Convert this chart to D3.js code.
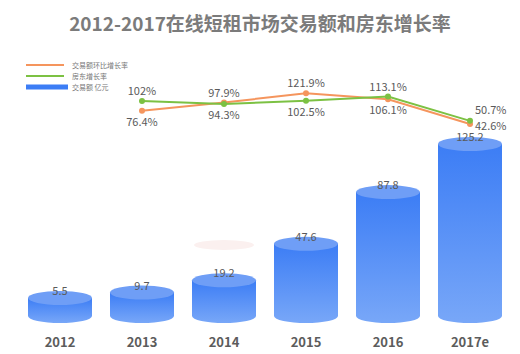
<!DOCTYPE html>
<html>
<head>
<meta charset="utf-8">
<script src="https://cdn.jsdelivr.net/npm/d3@7"></script>
<style>
  body { margin: 0; background: #fff; }
  text { font-family: "Noto Sans CJK SC", "DejaVu Sans", sans-serif; }
</style>
</head>
<body>
<div id="chart"></div>
<script>
// Data
var years = ["2012", "2013", "2014", "2015", "2016", "2017e"];
var volume = [5.5, 9.7, 19.2, 47.6, 87.8, 125.2];           // 交易额 亿元
var lineYears = ["2013", "2014", "2015", "2016", "2017e"];
var volumeGrowth = [76.4, 97.9, 121.9, 106.1, 42.6];         // 交易额环比增长率
var hostGrowth = [102, 94.3, 102.5, 113.1, 50.7];            // 房东增长率

var width = 520, height = 354;

var svg = d3.select("#chart").append("svg")
    .attr("width", width)
    .attr("height", height);

// Gradient for the cylinders
var defs = svg.append("defs");
var grad = defs.append("linearGradient")
    .attr("id", "barGrad")
    .attr("x1", 0).attr("y1", 0).attr("x2", 0).attr("y2", 1);
grad.append("stop").attr("offset", "0%").attr("stop-color", "#3c7df5");
grad.append("stop").attr("offset", "100%").attr("stop-color", "#78a7f8");

// Title
svg.append("text")
    .attr("x", 260)
    .attr("y", 31)
    .attr("text-anchor", "middle")
    .style("font-size", "19px")
    .style("font-weight", "bold")
    .style("fill", "#7b7b7b")
    .text("2012-2017在线短租市场交易额和房东增长率");

// Scales
var x = d3.scalePoint().domain(years).range([60, 470]);
var baseY = 316;
var y = d3.scaleLinear().domain([0, 125.2]).range([305, 144]);
var yRate = d3.scaleLinear().domain([40, 125]).range([125, 92]);

var rx = 32, ry = 7;

// faint shadow ellipse seen in the original
svg.append("ellipse")
    .attr("cx", x("2014"))
    .attr("cy", 245)
    .attr("rx", 30)
    .attr("ry", 5)
    .style("fill", "#fbf0ef");

// Cylinders
var bars = svg.selectAll(".bar")
    .data(volume)
    .enter().append("g")
    .attr("class", "bar");

bars.append("path")
    .attr("d", function (d, i) {
        var cx = x(years[i]), top = y(d);
        return "M" + (cx - rx) + "," + top +
            "L" + (cx - rx) + "," + baseY +
            "A" + rx + "," + ry + " 0 0 0 " + (cx + rx) + "," + baseY +
            "L" + (cx + rx) + "," + top + "Z";
    })
    .style("fill", "url(#barGrad)");

bars.append("ellipse")
    .attr("cx", function (d, i) { return x(years[i]); })
    .attr("cy", function (d) { return y(d); })
    .attr("rx", rx)
    .attr("ry", ry)
    .style("fill", "#6f9ef6");

bars.append("text")
    .attr("x", function (d, i) { return x(years[i]); })
    .attr("y", function (d) { return y(d) - ry + 4; })
    .attr("text-anchor", "middle")
    .style("font-size", "11px")
    .style("fill", "#5a5a5a")
    .text(function (d) { return d; });

// X axis labels
svg.selectAll(".xlab")
    .data(years)
    .enter().append("text")
    .attr("class", "xlab")
    .attr("x", function (d) { return x(d); })
    .attr("y", 347)
    .attr("text-anchor", "middle")
    .style("font-size", "13px")
    .style("font-weight", "bold")
    .style("fill", "#5c5c5c")
    .text(function (d) { return d; });

// Lines
var line = d3.line()
    .x(function (d, i) { return x(lineYears[i]); })
    .y(function (d) { return yRate(d); });

var series = [
    { values: volumeGrowth, color: "#f5955d", other: hostGrowth },
    { values: hostGrowth, color: "#7cc143", other: volumeGrowth }
];

var last = lineYears.length - 1;

series.forEach(function (s) {
    svg.append("path")
        .datum(s.values)
        .attr("d", line)
        .style("fill", "none")
        .style("stroke", s.color)
        .style("stroke-width", 2);

    svg.selectAll(null)
        .data(s.values)
        .enter().append("circle")
        .attr("cx", function (d, i) { return x(lineYears[i]); })
        .attr("cy", function (d) { return yRate(d); })
        .attr("r", 3)
        .style("fill", s.color);

    // label above when this series is the upper one, otherwise below;
    // the last point puts its labels to the right
    svg.selectAll(null)
        .data(s.values)
        .enter().append("text")
        .attr("x", function (d, i) { return x(lineYears[i]) + (i === last ? 5 : 0); })
        .attr("y", function (d, i) {
            var above = yRate(d) <= yRate(s.other[i]);
            if (i === last) return above ? yRate(d) - 7 : yRate(d) + 6;
            return above ? yRate(d) - 6 : yRate(d) + 15;
        })
        .attr("text-anchor", function (d, i) { return i === last ? "start" : "middle"; })
        .style("font-size", "11px")
        .style("fill", "#5a5a5a")
        .text(function (d) { return d + "%"; });
});

// Legend
var legendData = [
    { name: "交易额环比增长率", color: "#f5955d", h: 2 },
    { name: "房东增长率", color: "#7cc143", h: 2 },
    { name: "交易额 亿元", color: "#3c7df5", h: 5 }
];

var legend = svg.append("g")
    .attr("transform", "translate(26,65)");

var legendItems = legend.selectAll(".legend-item")
    .data(legendData)
    .enter().append("g")
    .attr("class", "legend-item")
    .attr("transform", function (d, i) {
        return "translate(0," + (i * 11) + ")";
    });

legendItems.append("rect")
    .attr("x", 0)
    .attr("y", function (d) { return -d.h / 2; })
    .attr("width", function (d) { return d.h > 2 ? 42 : 38; })
    .attr("height", function (d) { return d.h; })
    .style("fill", function (d) { return d.color; });

legendItems.append("text")
    .attr("x", 46)
    .attr("y", 3)
    .style("font-size", "7px")
    .style("fill", "#777")
    .text(function (d) { return d.name; });
</script>
</body>
</html>
